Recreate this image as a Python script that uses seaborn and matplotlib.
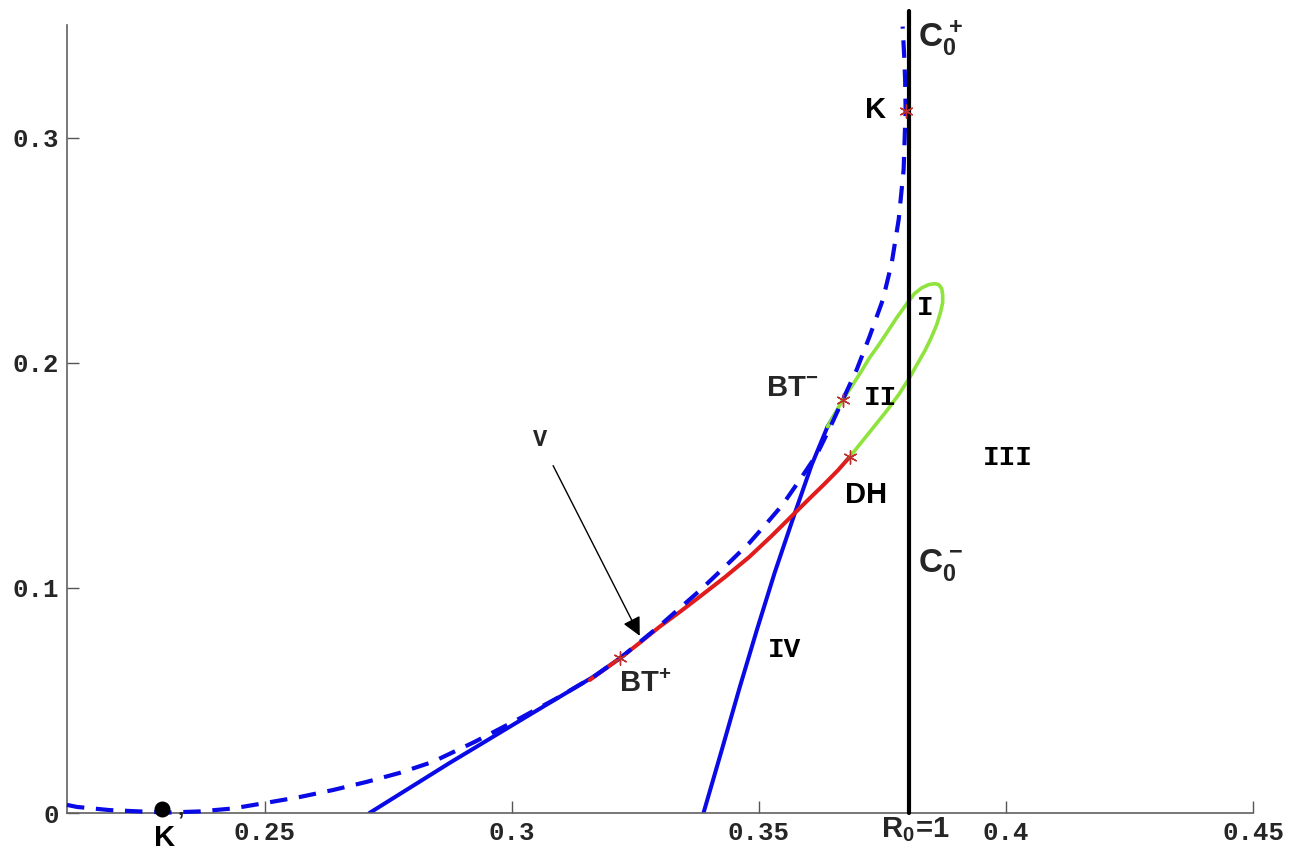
import numpy as np
import pandas as pd
import matplotlib
matplotlib.use("Agg")
import matplotlib.pyplot as plt
import seaborn as sns

# ---- bifurcation curves in the (x, y) parameter plane ----
# saddle-node curve (dashed)
sn_x = [0.2100, 0.2120, 0.2186, 0.2247, 0.2304, 0.2368, 0.2435, 0.2500, 0.2571,
        0.2638, 0.2706, 0.2773, 0.2840, 0.2925, 0.3010, 0.3089, 0.3168, 0.3220,
        0.3299, 0.3380, 0.3431, 0.3481, 0.3514, 0.3548, 0.3583, 0.3617, 0.3643,
        0.3670, 0.3698, 0.3724, 0.3751, 0.3769, 0.3783, 0.3793, 0.3797, 0.3796,
        0.3794, 0.3791]
sn_y = [0.0036, 0.0027, 0.0013, 0.0007, 0.0002, 0.0007, 0.0020, 0.0044, 0.0071,
        0.0102, 0.0138, 0.0178, 0.0227, 0.0316, 0.0413, 0.0507, 0.0609, 0.0689,
        0.0831, 0.0987, 0.1093, 0.1200, 0.1282, 0.1369, 0.1480, 0.1591, 0.1707,
        0.1836, 0.1969, 0.2116, 0.2280, 0.2444, 0.2636, 0.2858, 0.3120, 0.3258,
        0.3369, 0.3493]

# lower solid branch ending at BT+
h_x = [0.2712, 0.2793, 0.2874, 0.2955, 0.3036, 0.3097, 0.3168, 0.3220]
h_y = [0.0000, 0.0111, 0.0222, 0.0329, 0.0436, 0.0516, 0.0609, 0.0689]

# steep solid branch (region IV boundary)
iv_x = [0.3388, 0.3425, 0.3461, 0.3496, 0.3532, 0.3573, 0.3607, 0.3639, 0.3660]
iv_y = [0.0000, 0.0280, 0.0556, 0.0813, 0.1067, 0.1333, 0.1547, 0.1716, 0.1791]

# red branch from BT+ to DH
dh_x = [0.3158, 0.3220, 0.3259, 0.3299, 0.3340, 0.3380, 0.3431, 0.3481, 0.3526,
        0.3573, 0.3603, 0.3633, 0.3660, 0.3684]
dh_y = [0.0591, 0.0689, 0.0756, 0.0827, 0.0893, 0.0960, 0.1047, 0.1138, 0.1231,
        0.1333, 0.1398, 0.1462, 0.1522, 0.1582]

# green loop from BT- round to DH
lp_x = [0.3639, 0.3670, 0.3690, 0.3708, 0.3724, 0.3743, 0.3759, 0.3779, 0.3801,
        0.3815, 0.3830, 0.3844, 0.3856, 0.3864, 0.3870, 0.3872, 0.3872, 0.3868,
        0.3860, 0.3848, 0.3836, 0.3821, 0.3805, 0.3783, 0.3759, 0.3736, 0.3710,
        0.3684]
lp_y = [0.1716, 0.1836, 0.1902, 0.1964, 0.2022, 0.2080, 0.2133, 0.2200, 0.2267,
        0.2307, 0.2333, 0.2347, 0.2351, 0.2347, 0.2329, 0.2302, 0.2267, 0.2227,
        0.2169, 0.2107, 0.2053, 0.1996, 0.1933, 0.1858, 0.1787, 0.1724, 0.1653,
        0.1582]

# R0 = 1 line
r0_x = [0.3803, 0.3803]
r0_y = [0.0, 0.356]

# special points
pt_names = ["K", "BT-", "DH", "BT+"]
pt_x = [0.3797, 0.3670, 0.3684, 0.3220]
pt_y = [0.3120, 0.1836, 0.1582, 0.0689]
kp_x, kp_y = 0.2292, 0.0018

x_ticks = [0.25, 0.3, 0.35, 0.4, 0.45]
x_ticklabels = ["0.25", "0.3", "0.35", "0.4", "0.45"]
y_ticks = [0, 0.1, 0.2, 0.3]
y_ticklabels = ["0", "0.1", "0.2", "0.3"]

sns.set_theme(style="white")
plt.rcParams["font.family"] = ["Liberation Sans", "DejaVu Sans"]
plt.rcParams["mathtext.fontset"] = "custom"
plt.rcParams["mathtext.rm"] = "Liberation Sans:bold"
plt.rcParams["mathtext.it"] = "Liberation Sans:bold"
plt.rcParams["mathtext.bf"] = "Liberation Sans:bold"
plt.rcParams["mathtext.sf"] = "Liberation Sans:bold"

BLUE = "#0a0ae6"
RED = "#e01c1c"
GREEN = "#8ee33c"
STAR = "#c0302c"

fig = plt.figure(figsize=(13.02, 8.52), dpi=100)
ax = fig.add_axes([0.05146, 0.04577, 0.91091, 0.92488])

line_kw = dict(sort=False, estimator=None, ax=ax)
sns.lineplot(x=h_x, y=h_y, color=BLUE, lw=2.9, zorder=2, **line_kw)
sns.lineplot(x=iv_x, y=iv_y, color=BLUE, lw=2.9, zorder=2, **line_kw)
sns.lineplot(x=dh_x, y=dh_y, color=RED, lw=2.9, zorder=3, **line_kw)
sns.lineplot(x=lp_x, y=lp_y, color=GREEN, lw=2.6, zorder=3, **line_kw)
sns.lineplot(x=sn_x, y=sn_y, color=BLUE, lw=3.0, zorder=4, **line_kw)
ax.lines[-1].set_dashes([4.2, 2.8])
ax.lines[-1].set_clip_on(False)
sns.lineplot(x=r0_x, y=r0_y, color="black", lw=3.0, zorder=5, **line_kw)
ax.lines[-1].set_clip_on(False)
for ln in ax.lines:
    ln.set_solid_joinstyle("round")
    ln.set_dash_joinstyle("round")

ax.scatter(pt_x, pt_y, marker=(6, 2, 0), s=90, color=STAR, linewidths=1.0, zorder=6)
ax.scatter([kp_x], [kp_y], marker="o", s=110, color="black", zorder=6, clip_on=False)

ax.set_xlim(0.21, 0.45)
ax.set_ylim(0.0, 0.35)
ax.set_xticks(x_ticks)
ax.set_xticklabels(x_ticklabels)
ax.set_yticks(y_ticks)
ax.set_yticklabels(y_ticklabels)

mono_family = ["Liberation Mono", "DejaVu Sans Mono"]
for lab in ax.get_xticklabels() + ax.get_yticklabels():
    lab.set_fontfamily(mono_family)
    lab.set_fontweight("bold")
    lab.set_fontsize(18.5)
ax.tick_params(axis="both", direction="in", length=8.5, width=1.0, color="#555555",
               bottom=True, left=True, top=False, right=False)
ax.tick_params(axis="x", pad=6)
ax.tick_params(axis="y", pad=6)

for side in ["top", "right"]:
    ax.spines[side].set_visible(False)
for side in ["left", "bottom"]:
    ax.spines[side].set_color("#606060")
    ax.spines[side].set_linewidth(1.2)

sans = dict(fontsize=21, fontweight="bold", color="black")
ax.text(0.3736, 0.3124, "K", ha="center", va="center", **sans)
ax.text(0.3822, 0.3440, r"$C_0^+$", ha="left", va="center", fontsize=24, clip_on=False)
ax.text(0.3568, 0.1889, r"$\mathrm{BT}^{-}$", ha="center", va="center", fontsize=21)
ax.text(0.3716, 0.1413, "DH", ha="center", va="center", **sans)
ax.text(0.3822, 0.1100, r"$C_0^-$", ha="left", va="center", fontsize=24)
ax.text(0.3269, 0.0572, r"$\mathrm{BT}^{+}$", ha="center", va="center", fontsize=21)
ax.text(0.2298, -0.0110, "K", ha="center", va="center", clip_on=False, **sans)
ax.text(0.2331, -0.0040, "’", ha="center", va="center", clip_on=False, fontsize=17,
        fontweight="bold")
ax.text(0.3817, -0.0075, r"$R_0\!=\!1$", ha="center", va="center", fontsize=21,
        clip_on=False)

roman = dict(fontsize=20, color="black", family=mono_family, fontweight="bold")
ax.text(0.3836, 0.2244, "I", ha="center", va="center", **roman)
ax.text(0.3746, 0.1844, "II", ha="center", va="center", **roman)
ax.text(0.4004, 0.1578, "III", ha="center", va="center", **roman)
ax.text(0.3552, 0.0724, "IV", ha="center", va="center", **roman)
ax.annotate("V", xy=(0.3259, 0.0787), xytext=(0.3057, 0.1658),
            ha="center", va="center", fontsize=17, family=mono_family, fontweight="bold",
            arrowprops=dict(arrowstyle="-|>", color="black", lw=1.0, mutation_scale=28,
                            shrinkA=9, shrinkB=0))

fig.savefig("out.png", dpi=100)
